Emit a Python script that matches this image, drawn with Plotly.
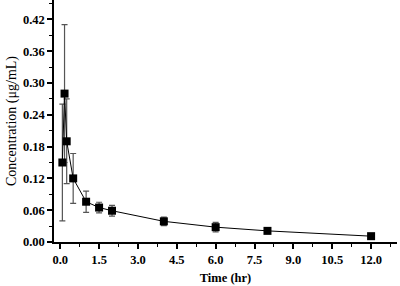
import plotly.graph_objects as go

time_hr = [0.083, 0.167, 0.25, 0.5, 1.0, 1.5, 2.0, 4.0, 6.0, 8.0, 12.0]
conc = [0.150, 0.280, 0.190, 0.120, 0.076, 0.065, 0.059, 0.039, 0.028, 0.021, 0.011]
conc_sd = [0.110, 0.130, 0.080, 0.047, 0.020, 0.010, 0.010, 0.008, 0.009, 0.002, 0.002]

x_ticks = [0.0, 1.5, 3.0, 4.5, 6.0, 7.5, 9.0, 10.5, 12.0]
y_ticks = [0.00, 0.06, 0.12, 0.18, 0.24, 0.30, 0.36, 0.42]

font_family = "Liberation Serif, Times New Roman, serif"

fig = go.Figure()
fig.add_trace(go.Scatter(
    x=time_hr, y=conc, mode="lines+markers",
    line=dict(color="black", width=1),
    marker=dict(symbol="square", size=8, color="black"),
    error_y=dict(type="data", array=conc_sd, visible=True,
                 color="#555555", thickness=1.2, width=3),
    showlegend=False,
))

axis_common = dict(
    showline=True, linecolor="black", linewidth=1.5,
    ticks="outside", ticklen=5, tickwidth=1.5, tickcolor="black",
    showgrid=False, zeroline=False, mirror=False,
    tickfont=dict(family=font_family, size=12.5, color="black", weight="bold"),
)

fig.update_layout(
    width=400, height=286,
    margin=dict(l=54, r=3, t=0, b=44),
    paper_bgcolor="white", plot_bgcolor="white",
    xaxis=dict(
        range=[-0.24, 13.0], tickvals=x_ticks,
        ticktext=[f"{v:.1f}" for v in x_ticks],
        minor=dict(dtick=0.75, tick0=0, ticks="outside", ticklen=3, tickcolor="black", tickwidth=1),
        title=dict(text="Time (hr)", font=dict(family=font_family, size=12.5, color="black", weight="bold"), standoff=7),
        **axis_common,
    ),
    yaxis=dict(
        range=[0, 0.4566], tickvals=y_ticks,
        ticktext=[f"{v:.2f}" for v in y_ticks],
        minor=dict(dtick=0.03, tick0=0, ticks="outside", ticklen=3, tickcolor="black", tickwidth=1),
        title=dict(text="Concentration (μg/mL)", font=dict(family=font_family, size=14, color="black"), standoff=3),
        **axis_common,
    ),
)

fig.write_html("out.html")
